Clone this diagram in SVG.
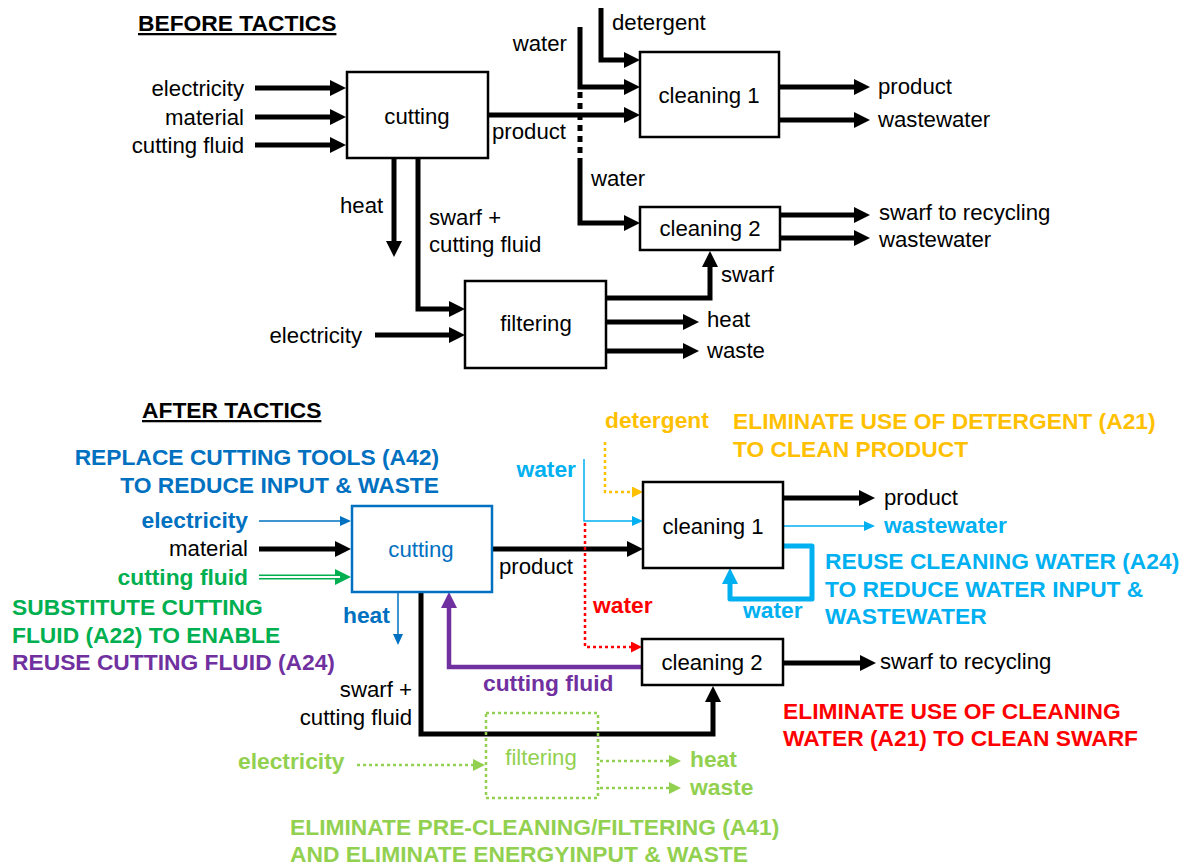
<svg xmlns="http://www.w3.org/2000/svg" width="1184" height="865" viewBox="0 0 1184 865">
  <style>
    text { font-family: "Liberation Sans", Arial, sans-serif; font-size: 22.2px; fill: #000; }
    .b { font-weight: bold; font-size: 22.8px; }
    .end { text-anchor: end; }
    .mid { text-anchor: middle; }
    .title { font-weight: bold; font-size: 22.8px; text-decoration: underline; }
    .box { fill: #fff; stroke: #000; stroke-width: 2.5; }
    .thick { fill: none; stroke: #000; stroke-width: 5; }
    .c-blue { fill: #0070C0; }
    .c-lblue { fill: #00B0F0; }
    .c-green { fill: #00B050; }
    .c-purple { fill: #7030A0; }
    .c-orange { fill: #FFC000; }
    .c-red { fill: #FF0000; }
    .c-lgreen { fill: #92D050; }
  </style>
  <defs>
    <marker id="a-blk" markerUnits="userSpaceOnUse" markerWidth="16" markerHeight="16" viewBox="0 0 16 16" refX="4" refY="8" orient="auto">
      <path d="M0,0L16,8L0,16z" fill="#000"/>
    </marker>
    <marker id="a-blue" markerUnits="userSpaceOnUse" markerWidth="11" markerHeight="10" viewBox="0 0 11 10" refX="5" refY="5" orient="auto">
      <path d="M0,0L11,5L0,10z" fill="#0070C0"/>
    </marker>
    <marker id="a-lblue" markerUnits="userSpaceOnUse" markerWidth="11" markerHeight="10" viewBox="0 0 11 10" refX="5" refY="5" orient="auto">
      <path d="M0,0L11,5L0,10z" fill="#00B0F0"/>
    </marker>
    <marker id="a-lblue-big" markerUnits="userSpaceOnUse" markerWidth="16" markerHeight="16" viewBox="0 0 16 16" refX="4" refY="8" orient="auto">
      <path d="M0,0L16,8L0,16z" fill="#00B0F0"/>
    </marker>
    <marker id="a-green" markerUnits="userSpaceOnUse" markerWidth="16" markerHeight="16" viewBox="0 0 16 16" refX="4" refY="8" orient="auto">
      <path d="M0,0L16,8L0,16z" fill="#00B050"/>
    </marker>
    <marker id="a-purple" markerUnits="userSpaceOnUse" markerWidth="16" markerHeight="16" viewBox="0 0 16 16" refX="4" refY="8" orient="auto">
      <path d="M0,0L16,8L0,16z" fill="#7030A0"/>
    </marker>
    <marker id="a-orange" markerUnits="userSpaceOnUse" markerWidth="11" markerHeight="11" viewBox="0 0 11 11" refX="4" refY="5.5" orient="auto">
      <path d="M0,0L11,5.5L0,11z" fill="#FFC000"/>
    </marker>
    <marker id="a-red" markerUnits="userSpaceOnUse" markerWidth="11" markerHeight="11" viewBox="0 0 11 11" refX="4" refY="5.5" orient="auto">
      <path d="M0,0L11,5.5L0,11z" fill="#FF0000"/>
    </marker>
    <marker id="a-lgreen" markerUnits="userSpaceOnUse" markerWidth="12" markerHeight="12" viewBox="0 0 12 12" refX="4" refY="6" orient="auto">
      <path d="M0,0L12,6L0,12z" fill="#92D050"/>
    </marker>
  </defs>

  <rect width="1184" height="865" fill="#fff"/>

  <!-- ===== Before tactics: flows ===== -->
  <g id="connectors-before" fill="none">
    <g class="thick" marker-end="url(#a-blk)">
      <path d="M255,88H334"/>
      <path d="M255,117H334"/>
      <path d="M255,145H334"/>
      <path d="M488,115H628"/>
      <path d="M580,27V87H628"/>
      <path d="M601,8V60H628"/>
      <path d="M580,160V223H628"/>
      <path d="M394,158V245"/>
      <path d="M418,158V309H453"/>
      <path d="M375,335H453"/>
      <path d="M606,298H710V263"/>
      <path d="M606,322H687"/>
      <path d="M606,351H687"/>
      <path d="M779,87H858"/>
      <path d="M779,120H858"/>
      <path d="M780,215H858"/>
      <path d="M780,238H858"/>
    </g>
    <!-- water supply crossing the product line -->
    <path d="M580,92V160" stroke="#000" stroke-width="5" stroke-dasharray="6 5"/>
  </g>

  <g id="cutting-before">
    <rect class="box" x="347" y="72" width="141" height="86"/>
    <text class="mid" x="417" y="124">cutting</text>
  </g>
  <g id="cleaning1-before">
    <rect class="box" x="640" y="52" width="139" height="85"/>
    <text class="mid" x="709" y="103">cleaning 1</text>
  </g>
  <g id="cleaning2-before">
    <rect class="box" x="640" y="207" width="140" height="43"/>
    <text class="mid" x="710" y="236">cleaning 2</text>
  </g>
  <g id="filtering-before">
    <rect class="box" x="465" y="281" width="141" height="87"/>
    <text class="mid" x="536" y="331">filtering</text>
  </g>

  <g id="labels-before">
    <text class="title" x="138" y="31">BEFORE TACTICS</text>
    <text class="end" x="244" y="96">electricity</text>
    <text class="end" x="244" y="125">material</text>
    <text class="end" x="244" y="153">cutting fluid</text>
    <text x="492" y="139">product</text>
    <text class="end" x="567" y="51">water</text>
    <text x="612" y="30">detergent</text>
    <text x="878" y="94">product</text>
    <text x="878" y="127">wastewater</text>
    <text x="591" y="186">water</text>
    <text x="879" y="220">swarf to recycling</text>
    <text x="879" y="247">wastewater</text>
    <text x="340" y="213">heat</text>
    <text x="429" y="225">swarf +</text>
    <text x="429" y="252">cutting fluid</text>
    <text class="end" x="362" y="343">electricity</text>
    <text x="721" y="282">swarf</text>
    <text x="707" y="327">heat</text>
    <text x="707" y="358">waste</text>
  </g>

  <!-- ===== After tactics: flows ===== -->
  <g id="connectors-after" fill="none">
    <g class="thick" marker-end="url(#a-blk)">
      <path d="M259,549H339"/>
      <path d="M492,549H631"/>
      <path d="M421,592V734H713V698"/>
      <path d="M783,498H863"/>
      <path d="M783,663H864"/>
    </g>
    <!-- substitute cutting fluid: double line -->
    <path d="M259,577H339" stroke="#00B050" stroke-width="5" marker-end="url(#a-green)"/>
    <path d="M257,577H340" stroke="#fff" stroke-width="1.8"/>
    <path d="M259,521H345" stroke="#0070C0" stroke-width="1.5" marker-end="url(#a-blue)"/>
    <path d="M398,592V639" stroke="#0070C0" stroke-width="1.5" marker-end="url(#a-blue)"/>
    <path d="M642,667H449V604" stroke="#7030A0" stroke-width="4.5" marker-end="url(#a-purple)"/>
    <path d="M584,459V521H637" stroke="#00B0F0" stroke-width="1.5" marker-end="url(#a-lblue)"/>
    <path d="M783,526H869" stroke="#00B0F0" stroke-width="1.5" marker-end="url(#a-lblue)"/>
    <path d="M783,546H812V599H730V580" stroke="#00B0F0" stroke-width="5" stroke-linejoin="round" marker-end="url(#a-lblue-big)"/>
    <path d="M605,442V492H636" stroke="#FFC000" stroke-width="2.5" stroke-dasharray="3 3" marker-end="url(#a-orange)"/>
    <path d="M585,523V647H635" stroke="#FF0000" stroke-width="2.5" stroke-dasharray="3 3" marker-end="url(#a-red)"/>
    <g stroke="#92D050" stroke-width="2.5" stroke-dasharray="3 3" marker-end="url(#a-lgreen)">
      <path d="M357,765H477"/>
      <path d="M600,761H673"/>
      <path d="M600,788H673"/>
    </g>
  </g>

  <g id="cutting-after">
    <rect x="352" y="506" width="140" height="86" fill="#fff" stroke="#0070C0" stroke-width="2.5"/>
    <text class="mid c-blue" x="421" y="557">cutting</text>
  </g>
  <g id="cleaning1-after">
    <rect class="box" x="643" y="482" width="140" height="86"/>
    <text class="mid" x="713" y="534">cleaning 1</text>
  </g>
  <g id="cleaning2-after">
    <rect class="box" x="642" y="639" width="141" height="46"/>
    <text class="mid" x="712" y="670">cleaning 2</text>
  </g>
  <g id="filtering-after">
    <rect x="486" y="713" width="112" height="85" fill="none" stroke="#92D050" stroke-width="2.5" stroke-dasharray="3 3"/>
    <text class="mid c-lgreen" x="541" y="765">filtering</text>
  </g>

  <g id="labels-after">
    <text class="title" x="142" y="418">AFTER TACTICS</text>
    <text class="b end c-blue" x="439" y="465">REPLACE CUTTING TOOLS (A42)</text>
    <text class="b end c-blue" x="439" y="493">TO REDUCE INPUT &amp; WASTE</text>
    <text class="b end c-blue" x="248" y="528">electricity</text>
    <text class="end" x="248" y="556">material</text>
    <text class="b end c-green" x="248" y="585">cutting fluid</text>
    <text class="b c-green" x="12" y="615">SUBSTITUTE CUTTING</text>
    <text class="b c-green" x="12" y="643">FLUID (A22) TO ENABLE</text>
    <text class="b c-purple" x="12" y="670">REUSE CUTTING FLUID (A24)</text>
    <text class="b c-blue" x="343" y="623">heat</text>
    <text x="499" y="574">product</text>
    <text class="b c-orange" x="605" y="428">detergent</text>
    <text class="b c-orange" x="733" y="429">ELIMINATE USE OF DETERGENT (A21)</text>
    <text class="b c-orange" x="733" y="457">TO CLEAN PRODUCT</text>
    <text class="b end c-lblue" x="576" y="477">water</text>
    <text x="884" y="505">product</text>
    <text class="b c-lblue" x="884" y="533">wastewater</text>
    <text class="b c-lblue" x="825" y="569">REUSE CLEANING WATER (A24)</text>
    <text class="b c-lblue" x="825" y="597">TO REDUCE WATER INPUT &amp;</text>
    <text class="b c-lblue" x="825" y="624">WASTEWATER</text>
    <text class="b c-red" x="593" y="613">water</text>
    <text class="b c-lblue" x="743" y="618">water</text>
    <text x="880" y="669">swarf to recycling</text>
    <text class="b c-purple" x="483" y="691">cutting fluid</text>
    <text class="end" x="412" y="697">swarf +</text>
    <text class="end" x="412" y="725">cutting fluid</text>
    <text class="b c-red" x="783" y="719">ELIMINATE USE OF CLEANING</text>
    <text class="b c-red" x="783" y="746">WATER (A21) TO CLEAN SWARF</text>
    <text class="b c-lgreen" x="238" y="769">electricity</text>
    <text class="b c-lgreen" x="690" y="767">heat</text>
    <text class="b c-lgreen" x="690" y="795">waste</text>
    <text class="b c-lgreen" x="290" y="835">ELIMINATE PRE-CLEANING/FILTERING (A41)</text>
    <text class="b c-lgreen" x="290" y="862">AND ELIMINATE ENERGYINPUT &amp; WASTE</text>
  </g>
</svg>
